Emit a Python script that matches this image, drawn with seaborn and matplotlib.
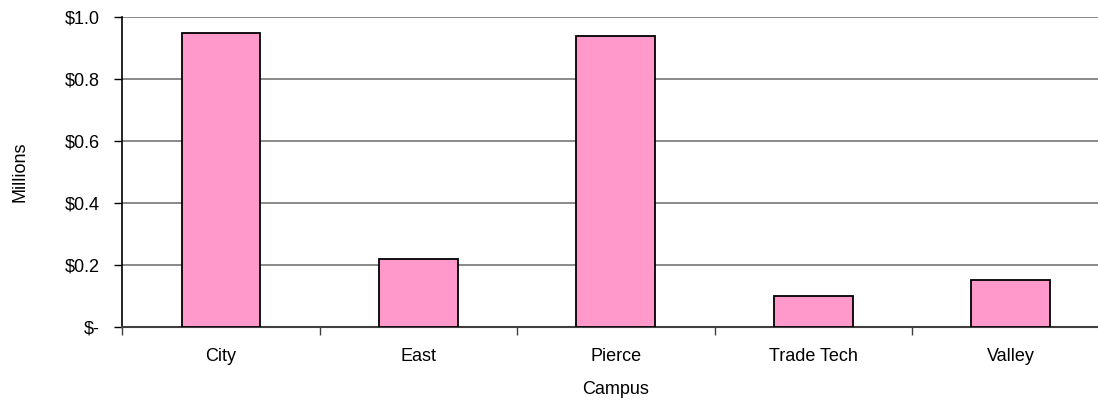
import matplotlib
matplotlib.use("Agg")
import matplotlib.pyplot as plt
from matplotlib.ticker import FixedLocator, FuncFormatter
import seaborn as sns
import pandas as pd

campuses = ["City", "East", "Pierce", "Trade Tech", "Valley"]
amounts = [0.95, 0.22, 0.94, 0.10, 0.15]  # millions of dollars
y_ticks = [0.0, 0.2, 0.4, 0.6, 0.8, 1.0]

df = pd.DataFrame({"Campus": campuses, "Millions": amounts})

sns.set_theme(style="white")
plt.rcParams["font.family"] = ["Liberation Sans", "DejaVu Sans"]

FS = 13

fig = plt.figure(figsize=(10.98, 4.04), dpi=100)
# plot area runs slightly past the right edge of the canvas
ax = fig.add_axes([122.3 / 1098, 77.3 / 404, 987 / 1098, 309.2 / 404])

sns.barplot(data=df, x="Campus", y="Millions", ax=ax, color="#FF99CC",
            saturation=1, width=0.4, edgecolor="black", linewidth=1.3, zorder=3)

ax.set_ylim(0, 1.0)
ax.set_xlim(-0.5, len(campuses) - 0.5)
ax.set_yticks(y_ticks)
ax.yaxis.set_major_formatter(FuncFormatter(lambda v, p: "$-" if v == 0 else f"${v:.1f}"))
ax.yaxis.grid(True, color="#808080", linewidth=1.3, zorder=0)
ax.set_axisbelow(True)

# category ticks sit between the bars
ax.xaxis.set_major_locator(FixedLocator([i - 0.5 for i in range(len(campuses) + 1)]))
ax.xaxis.set_major_formatter(FuncFormatter(lambda v, p: ""))
ax.xaxis.set_minor_locator(FixedLocator(list(range(len(campuses)))))
ax.set_xticklabels(campuses, minor=True)
ax.tick_params(axis="x", which="major", direction="out", length=6, width=1,
               color="#404040", bottom=True)
ax.tick_params(axis="x", which="minor", length=0, pad=15, labelsize=FS,
               labelcolor="black")
ax.tick_params(axis="y", direction="out", length=6, width=1, color="black",
               left=True, labelsize=FS, labelcolor="black", pad=10)

for side in ["top", "right"]:
    ax.spines[side].set_visible(False)
ax.spines["left"].set_color("black")
ax.spines["left"].set_linewidth(1.2)
ax.spines["bottom"].set_color("#404040")
ax.spines["bottom"].set_linewidth(1.5)

ax.set_xlabel("Campus", fontsize=FS, color="black", labelpad=12)
ax.set_ylabel("Millions", fontsize=FS, color="black", labelpad=26)

fig.savefig("out.png", dpi=100, facecolor="white")
